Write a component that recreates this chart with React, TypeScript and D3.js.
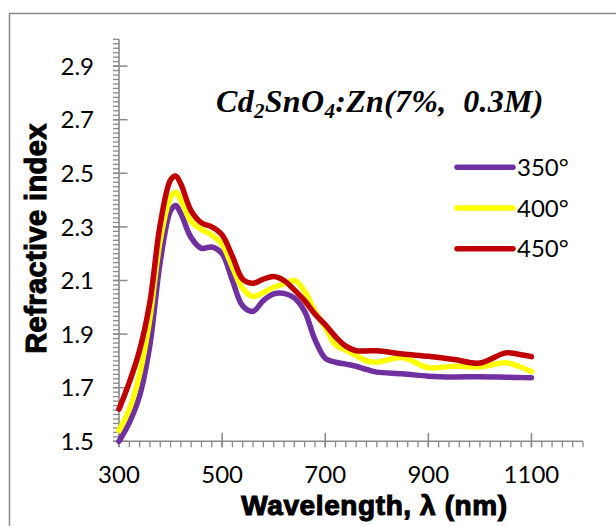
import * as d3 from "d3";

// wavelength (nm) shared by all three series
const wavelength = [300, 320, 340, 360, 380, 400, 410, 420, 440, 460, 480, 500, 520, 540, 560, 580, 600, 620, 640, 660, 680, 700, 720, 740, 760, 780, 800, 850, 900, 950, 1000, 1050, 1075, 1100];

// refractive index for each annealing temperature
const n350 = [1.5, 1.57, 1.67, 1.86, 2.17, 2.36, 2.38, 2.35, 2.26, 2.22, 2.225, 2.2, 2.1, 2.005, 1.985, 2.025, 2.05, 2.052, 2.035, 1.985, 1.88, 1.81, 1.795, 1.788, 1.78, 1.768, 1.758, 1.752, 1.743, 1.74, 1.741, 1.739, 1.738, 1.737];
const n400 = [1.54, 1.62, 1.75, 1.96, 2.25, 2.41, 2.43, 2.4, 2.32, 2.29, 2.27, 2.235, 2.15, 2.07, 2.04, 2.055, 2.075, 2.087, 2.1, 2.06, 1.985, 1.925, 1.86, 1.84, 1.82, 1.8, 1.795, 1.812, 1.775, 1.78, 1.778, 1.793, 1.78, 1.76];
const n450 = [1.62, 1.72, 1.84, 2.02, 2.31, 2.475, 2.49, 2.46, 2.36, 2.315, 2.3, 2.27, 2.19, 2.105, 2.09, 2.105, 2.115, 2.1, 2.065, 2.025, 1.975, 1.935, 1.89, 1.855, 1.838, 1.837, 1.838, 1.826, 1.817, 1.805, 1.792, 1.83, 1.825, 1.816];

const seriesNames = ["350°", "400°", "450°"];
const seriesColors = ["#7030A0", "#FFFF00", "#C00000"];

const xTicks = [300, 500, 700, 900, 1100];
const yTicks = [1.5, 1.7, 1.9, 2.1, 2.3, 2.5, 2.7, 2.9];

const W = 616;
const H = 526;
const axisColor = "#898989";

export default function App() {
  const x = d3.scaleLinear().domain([300, 1200]).range([119, 583]);
  const y = d3.scaleLinear().domain([1.5, 3.0]).range([441.3, 39.3]);

  const line = d3
    .line<[number, number]>()
    .x((d) => x(d[0]))
    .y((d) => y(d[1]))
    .curve(d3.curveCatmullRom.alpha(0.5));

  const series = [n350, n400, n450].map((vals, i) => ({
    name: seriesNames[i],
    color: seriesColors[i],
    points: wavelength.map((w, j) => [w, vals[j]] as [number, number]),
  }));

  const xMinor = d3.range(300, 1200.1, 20);
  const yMinor = d3.range(0, 91).map((i) => 1.5 + (i * 0.2) / 12);

  const x0 = x(300);
  const y0 = y(1.5);

  return (
    <div style={{ position: "absolute", left: 0, top: 0 }}>
      <svg width={W} height={H} style={{ display: "block", background: "#fff" }}>
        <rect x={9.5} y={13.5} width={700} height={600} fill="#fff" stroke={axisColor} strokeWidth={1.5} />

        {/* y axis */}
        <line x1={x0} x2={x0} y1={y(3.0)} y2={y0} stroke={axisColor} strokeWidth={1.6} />
        {yMinor.map((v, i) => (
          <line key={"ym" + i} x1={x0 - 6} x2={x0} y1={y(v)} y2={y(v)} stroke={axisColor} strokeWidth={1.3} />
        ))}
        {yTicks.map((v) => (
          <g key={"yt" + v}>
            <line x1={x0 - 6} x2={x0 + 8.5} y1={y(v)} y2={y(v)} stroke={axisColor} strokeWidth={1.5} />
            <text x={94} y={y(v)} dy="0.36em" textAnchor="end" fontFamily="Lato" fontSize={24} fill="#000">
              {v.toFixed(1)}
            </text>
          </g>
        ))}

        {/* x axis */}
        <line x1={x0} x2={x(1200)} y1={y0} y2={y0} stroke={axisColor} strokeWidth={1.6} />
        {xMinor.map((v, i) => (
          <line key={"xm" + i} x1={x(v)} x2={x(v)} y1={y0} y2={y0 + 6} stroke={axisColor} strokeWidth={1.3} />
        ))}
        {xTicks.map((v) => (
          <g key={"xt" + v}>
            <line x1={x(v)} x2={x(v)} y1={y0 - 8.5} y2={y0 + 6} stroke={axisColor} strokeWidth={1.5} />
            <text x={x(v)} y={483} textAnchor="middle" fontFamily="Lato" fontSize={24} fill="#000">
              {v}
            </text>
          </g>
        ))}

        {/* series */}
        {series.map((s) => (
          <path
            key={s.name}
            d={line(s.points) || ""}
            fill="none"
            stroke={s.color}
            strokeWidth={5.5}
            strokeLinecap="round"
            strokeLinejoin="round"
          />
        ))}

        {/* legend */}
        {series.map((s, i) => {
          const ly = 167.3 + i * 40.7;
          return (
            <g key={"lg" + s.name}>
              <line x1={457} x2={513} y1={ly} y2={ly} stroke={s.color} strokeWidth={5.5} strokeLinecap="round" />
              <text x={517} y={ly} dy="0.36em" fontFamily="Lato" fontSize={24} fill="#000">
                {s.name}
              </text>
            </g>
          );
        })}

        {/* title */}
        <text x={216} y={111.7} fontFamily="Liberation Serif" fontStyle="italic" fontWeight="bold" fontSize={32} letterSpacing={0.3} fill="#000">
          Cd<tspan fontSize={21} dy={6}>2</tspan>
          <tspan dy={-6}>SnO</tspan>
          <tspan fontSize={21} dy={6}>4</tspan>
          <tspan dy={-6}>:Zn(7%,{"\u00a0\u00a0"}0.3M)</tspan>
        </text>

        {/* axis titles */}
        <text
          transform="translate(46,238.5) rotate(-90)"
          textAnchor="middle"
          fontFamily="Liberation Sans"
          fontWeight="bold"
          fontSize={29}
          letterSpacing={0.4}
          fill="#000"
          stroke="#000"
          strokeWidth={1.1}
        >
          Refractive index
        </text>
        <text
          x={374.5}
          y={515}
          textAnchor="middle"
          fontFamily="Liberation Sans"
          fontWeight="bold"
          fontSize={28}
          letterSpacing={0.6}
          fill="#000"
          stroke="#000"
          strokeWidth={1.1}
        >
          Wavelength, λ (nm)
        </text>
      </svg>
    </div>
  );
}
